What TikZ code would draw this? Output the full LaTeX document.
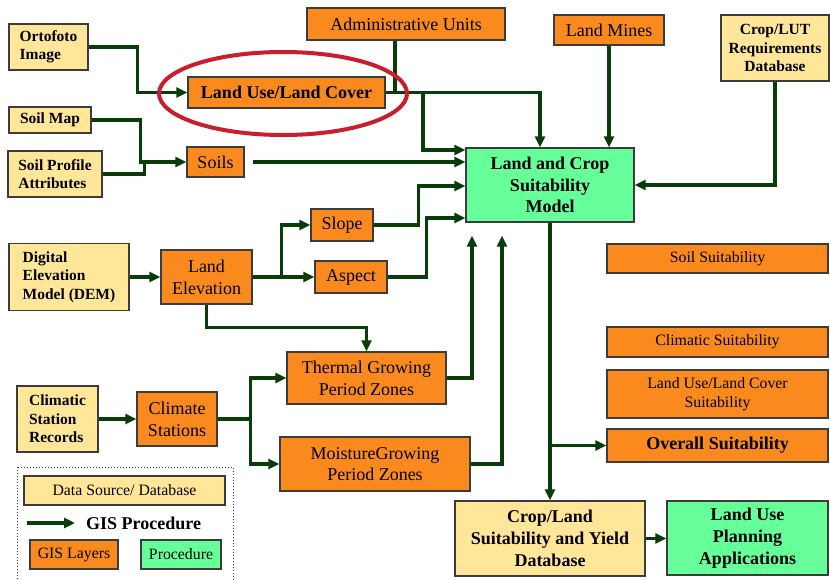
\documentclass[tikz,border=0pt]{standalone}
\usepackage{fontspec}
\setmainfont{Liberation Serif}
\usetikzlibrary{arrows.meta,calc}
\definecolor{og}{RGB}{250,138,30}
\definecolor{yel}{RGB}{255,230,153}
\definecolor{grn}{RGB}{102,255,153}
\definecolor{dgreen}{RGB}{8,60,8}
\definecolor{bordergray}{RGB}{60,60,60}
\definecolor{ellred}{RGB}{200,30,45}
\tikzset{
  box/.style={draw=bordergray, line width=1.3pt, inner sep=0pt, align=center, text=black},
  ob/.style={box, fill=og},
  yb/.style={box, fill=yel},
  gb/.style={box, fill=grn},
  fn/.style={font=\fontsize{18}{21.7}\selectfont},
  fs/.style={font=\fontsize{15.8}{19}\selectfont},
  fbs/.style={font=\fontsize{15.5}{18.4}\selectfont\bfseries},
  fbn/.style={font=\fontsize{18}{21.7}\selectfont\bfseries},
  ln/.style={draw=dgreen, line width=3.2pt},
  arr/.style={ln, -{Triangle[length=11pt,width=10pt]}},
  sz/.style 2 args={minimum width=#1pt, minimum height=#2pt},
}
\begin{document}
\begin{tikzpicture}[x=1pt,y=-1pt]
\useasboundingbox[fill=white] (0,0) rectangle (830,579);

% data sources
\node[yb, fbs, align=left, sz={79}{46}] (ortho) at (48.5,47) {Ortofoto\\Image};
\node[yb, fbs, sz={82}{26}] (soilmap) at (50,120) {Soil Map};
\node[yb, fbs, align=left, sz={94}{46}] (soilprof) at (55,174) {Soil Profile\\Attributes};
\node[yb, fbs, align=left, sz={120}{67}] (dem) at (69,277) {Digital\\Elevation\\Model (DEM)};
\node[yb, fbs, align=left, sz={81}{66}] (csr) at (57.5,419) {Climatic\\Station\\Records};
\node[yb, fbs, sz={108}{66}] (croplut) at (775,48) {Crop/LUT\\Requirements\\Database};

% GIS layers
\node[ob, fbn, sz={197}{31}] (lulc) at (286.5,92.5) {Land Use/Land Cover};
\node[ob, fn, sz={198}{32}] (admin) at (406,24) {Administrative Units};
\node[ob, fn, sz={110}{30}] (mines) at (609,30) {Land Mines};
\node[ob, fn, sz={57}{30}] (soils) at (215.5,162) {Soils};
\node[ob, fn, sz={62}{32}] (slope) at (342,225) {Slope};
\node[ob, fn, sz={72}{32}] (aspect) at (351,277) {Aspect};
\node[ob, fn, sz={91}{54}] (elev) at (206.5,277) {Land\\Elevation};
\node[ob, fn, sz={159}{52}] (thermal) at (366.5,378) {Thermal Growing\\Period Zones};
\node[ob, fn, sz={190}{54}] (moist) at (375,464) {MoistureGrowing\\Period Zones};
\node[ob, fn, sz={80}{54}] (cs) at (177,419) {Climate\\Stations};

% model
\node[gb, fbn, sz={168}{74}] (model) at (550,185) {Land and Crop\\Suitability\\Model};

% suitability column
\node[ob, fs, sz={221}{29}] (soilsuit) at (717.5,258.5) {Soil Suitability};
\node[ob, fs, sz={221}{30}] (climsuit) at (717.5,342) {Climatic Suitability};
\node[ob, fs, sz={221}{48}] (lulcsuit) at (717.5,394) {Land Use/Land Cover\\Suitability};
\node[ob, fbn, sz={221}{33}] (overall) at (717.5,445.5) {Overall Suitability};

% outputs
\node[yb, fbn, sz={190}{75}] (cropdb) at (550,538.5) {Crop/Land\\Suitability and Yield\\Database};
\node[gb, fbn, sz={161}{74}] (lupa) at (747.5,538) {Land Use\\Planning\\Applications};

% connectors
\draw[arr] (ortho.east) -- ++(49,0) |- (lulc.west);
\coordinate (j1) at (395,92.5);
\draw[ln] (j1 |- admin.south) -- (j1);
\draw[arr] (lulc.east) -| ([xshift=-10pt]model.north);
\coordinate (j2) at (423,92.5);
\draw[arr] (j2) |- ([yshift=35pt]model.west);
\draw[arr, shorten <=8pt] (soils.east) -- (soils.east -| model.west);
\draw[arr] (mines.south) -- (mines.south |- model.north);
\draw[arr] (croplut.south) |- (model.east);
\draw[arr] (soilmap.east) -- ++(49,0) |- (soils.west);
\draw[ln] (soilprof.east) -| ($(soils.west)+(-42,0)$);
\draw[arr] (slope.east) -- ++(45,0) |- ([yshift=-1pt]model.west);
\draw[arr] (aspect.east) -- ++(39,0) |- ([yshift=-33pt]model.west);
\draw[arr] (dem.east) -- (dem.east -| elev.west);
\draw[arr] (elev.east) -- ++(29,0) |- (slope.west);
\draw[arr] (elev.east) -- (aspect.west);
\draw[arr] (elev.south) -- ++(0,23) -| (thermal.north);
\draw[arr, shorten >=13pt] (thermal.east) -| ([xshift=-78pt]model.south);
\draw[arr, shorten >=13pt] (moist.east) -| ([xshift=-48pt]model.south);
\draw[arr] (csr.east) -- (csr.east -| cs.west);
\draw[arr] (cs.east) -- ++(33,0) |- (thermal.west);
\draw[arr] (cs.east) -- ++(33,0) |- (moist.west);
\draw[arr] (model.south) -- (cropdb.north);
\draw[arr] (model.south |- overall.west) -- (overall.west);
\draw[arr] (cropdb.east) -- (cropdb.east -| lupa.west);

% legend
\draw[bordergray, dotted, line width=1pt] (17,467) rectangle (233,600);
\node[yb, fs, sz={201}{29}] (leg1) at (124.5,490.5) {Data Source/ Database};
\node[fbn, inner sep=0pt, anchor=west] (legtxt) at (86,523) {GIS Procedure};
\coordinate (legs) at (27,523);
\draw[arr] (legs) -- ([xshift=-11pt]legtxt.west);
\node[ob, fs, sz={88}{29}] (leg2) at (74,554.5) {GIS Layers};
\node[gb, fs, sz={80}{29}] (leg3) at (181,554.5) {Procedure};

% highlight ellipse
\draw[ellred, line width=4pt] (283,93.5) ellipse [x radius=124, y radius=41.5];
\end{tikzpicture}
\end{document}
